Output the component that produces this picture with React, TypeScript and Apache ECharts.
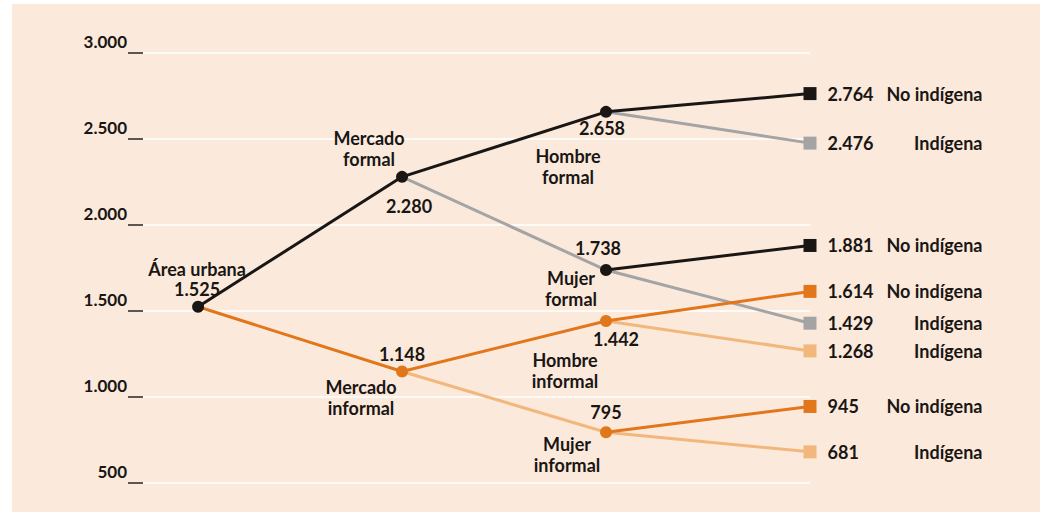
import React, { useEffect, useRef } from "react";
import * as echarts from "echarts";

// ---- data ----
const yTicks = [500, 1000, 1500, 2000, 2500, 3000];
const nodeNames = [
  "Área urbana",
  "Mercado\nformal",
  "Mercado\ninformal",
  "Hombre\nformal",
  "Mujer\nformal",
  "Hombre\ninformal",
  "Mujer\ninformal",
];
const nodeValues = [1525, 2280, 1148, 2658, 1738, 1442, 795];
const nodeStage = [0, 1, 1, 2, 2, 2, 2];
const nodeParent = [-1, 0, 0, 1, 1, 2, 2];
const endValues = [2764, 2476, 1881, 1429, 1614, 1268, 945, 681];
const endNames = [
  "No indígena",
  "Indígena",
  "No indígena",
  "Indígena",
  "No indígena",
  "Indígena",
  "No indígena",
  "Indígena",
];
const endParent = [3, 3, 4, 4, 5, 5, 6, 6];
const endStage = 3;

// ---- styles ----
const BLACK = "#1a1614";
const GRAY = "#a4a4a4";
const ORANGE = "#e2761b";
const LIGHT = "#f2b77c";
const TEXT = "#1a1614";
const FONT = "Lato, 'Open Sans', sans-serif";

const nodeColor = [BLACK, BLACK, ORANGE, BLACK, BLACK, ORANGE, ORANGE];
const inLineColor = [null, BLACK, ORANGE, BLACK, GRAY, ORANGE, LIGHT];
const endColor = [BLACK, GRAY, BLACK, GRAY, ORANGE, LIGHT, ORANGE, LIGHT];

// label offsets (px) from node centre
const nameOffset: number[][] = [
  [-1, -38],
  [-33, -28],
  [-41, 26],
  [-38, 55],
  [-35, 18],
  [-41, 50],
  [-39, 22],
];
const valueOffset: number[][] = [
  [-1, -18],
  [7, 29],
  [0, -18],
  [-4, 16],
  [-8, -22],
  [10, 18],
  [0, -20],
];

const fmt = (n: number) =>
  n >= 1000
    ? Math.floor(n / 1000) + "." + String(n % 1000).padStart(3, "0")
    : String(n);

export default function App() {
  const ref = useRef<HTMLDivElement>(null);
  useEffect(() => {
    if (!ref.current) return;
    const chart = echarts.init(ref.current, undefined, { renderer: "svg" });

    const lineSeries: any[] = [];
    nodeValues.forEach((v, i) => {
      const p = nodeParent[i];
      if (p < 0) return;
      const c = inLineColor[i] as string;
      lineSeries.push({
        type: "line",
        data: [
          [nodeStage[p], nodeValues[p]],
          [nodeStage[i], v],
        ],
        symbol: "none",
        lineStyle: { color: c, width: 3 },
        z: c === GRAY || c === LIGHT ? 2 : 3,
        silent: true,
      });
    });
    endValues.forEach((v, i) => {
      const p = endParent[i];
      const c = endColor[i];
      lineSeries.push({
        type: "line",
        data: [
          [nodeStage[p], nodeValues[p]],
          [endStage, v],
        ],
        symbol: "none",
        lineStyle: { color: c, width: 3 },
        z: c === GRAY || c === LIGHT ? 2 : 3,
        silent: true,
      });
    });

    const labelBase = {
      show: true,
      position: "inside",
      align: "center",
      verticalAlign: "middle",
      color: TEXT,
      opacity: 1,
      fontFamily: FONT,
      fontSize: 18,
      fontWeight: "bold",
    };

    const nodeSeries = {
      type: "scatter",
      symbol: "circle",
      symbolSize: 12,
      z: 5,
      data: nodeValues.map((v, i) => ({
        value: [nodeStage[i], v],
        itemStyle: { color: nodeColor[i], opacity: 1 },
        label: {
          ...labelBase,
          formatter: fmt(v),
          offset: valueOffset[i],
        },
      })),
    };

    const nameSeries = {
      type: "scatter",
      symbolSize: 1,
      itemStyle: { color: "rgba(0,0,0,0)", opacity: 1 },
      z: 6,
      data: nodeValues.map((v, i) => ({
        value: [nodeStage[i], v],
        label: {
          ...labelBase,
          lineHeight: 21,
          formatter: nodeNames[i],
          offset: nameOffset[i],
        },
      })),
    };

    const endSeries = {
      type: "scatter",
      symbol: "rect",
      symbolSize: 13,
      z: 5,
      data: endValues.map((v, i) => ({
        value: [endStage, v],
        itemStyle: { color: endColor[i], opacity: 1 },
        label: {
          show: true,
          position: "right",
          distance: 11,
          formatter: `{v|${fmt(v)}}{n|${endNames[i]}}`,
          rich: {
            v: {
              width: 55,
              align: "left",
              fontWeight: "bold",
              fontSize: 18,
              color: TEXT,
              fontFamily: FONT,
            },
            n: {
              width: 100,
              align: "right",
              fontWeight: "bold",
              fontSize: 18,
              color: TEXT,
              fontFamily: FONT,
            },
          },
        },
      })),
    };

    chart.setOption({
      animation: false,
      backgroundColor: "#ffffff",
      graphic: [
        {
          type: "rect",
          shape: { x: 12, y: 4, width: 1028, height: 508 },
          style: { fill: "#fbeadc" },
          z: -10,
          silent: true,
        },
      ],
      grid: { left: 143, right: 243, top: 53, bottom: 32, containLabel: false },
      xAxis: {
        type: "value",
        min: -0.27,
        max: 3,
        show: false,
      },
      yAxis: {
        type: "value",
        min: yTicks[0],
        max: yTicks[yTicks.length - 1],
        interval: yTicks[1] - yTicks[0],
        axisLine: { show: false, onZero: false },
        axisTick: {
          show: true,
          length: 15,
          lineStyle: { color: "#2a2421", width: 1.5 },
        },
        splitLine: { show: true, lineStyle: { color: "#ffffff", width: 1.5 } },
        axisLabel: {
          margin: 16,
          color: TEXT,
          fontFamily: FONT,
          fontSize: 17,
          fontWeight: "bold",
          verticalAlign: "bottom",
          padding: [0, 0, 3, 0],
          formatter: (v: number) => fmt(v),
        },
      },
      series: [...lineSeries, nodeSeries, nameSeries, endSeries],
    });
    return () => chart.dispose();
  }, []);
  return (
    <div
      ref={ref}
      style={{ position: "absolute", left: 0, top: 0, width: 1053, height: 515 }}
    />
  );
}
